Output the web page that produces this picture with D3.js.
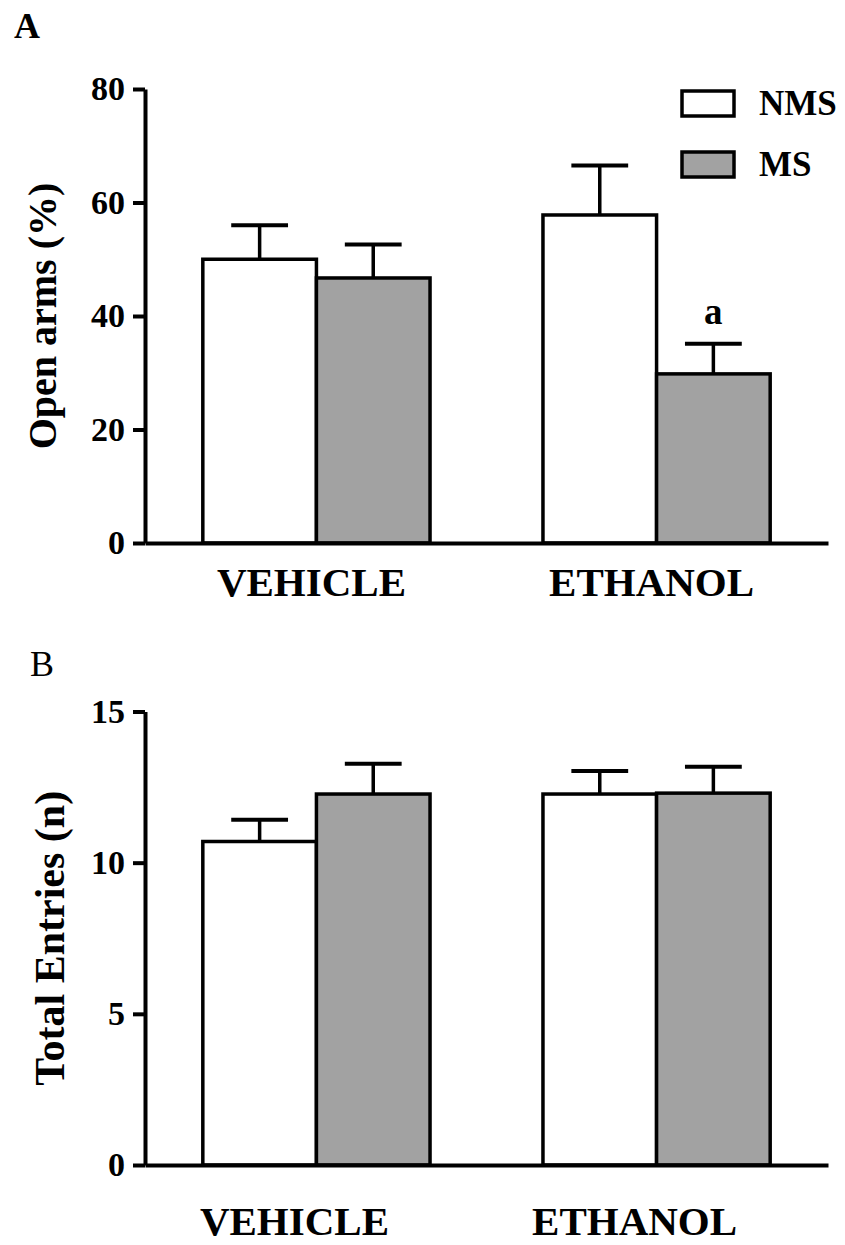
<!DOCTYPE html>
<html>
<head>
<meta charset="utf-8">
<script src="https://cdn.jsdelivr.net/npm/d3@7"></script>
<style>
  body { margin: 0; background: #fff; }
  svg text { font-family: "Liberation Serif", "Times New Roman", serif; }
</style>
</head>
<body>
<div id="chart"></div>
<script>
// values (mean and upper SEM)
var groups = ["VEHICLE", "ETHANOL"];
var series = ["NMS", "MS"];
var seriesFill = { NMS: "#ffffff", MS: "#a2a2a2" };

var openArmsNMS = [50.0, 57.8];
var openArmsNMSErr = [6.0, 8.7];
var openArmsMS = [46.7, 29.8];
var openArmsMSErr = [5.9, 5.3];
var openArmsTicks = [0, 20, 40, 60, 80];

var entriesNMS = [10.7, 12.27];
var entriesNMSErr = [0.72, 0.76];
var entriesMS = [12.27, 12.3];
var entriesMSErr = [1.0, 0.87];
var entriesTicks = [0, 5, 10, 15];

var svg = d3.select("#chart").append("svg")
  .attr("width", 845)
  .attr("height", 1245)
  .style("background-color", "white");

function rows(nms, nmsErr, ms, msErr) {
  return groups.map(function(g, i) {
    return { group: g, values: [
      { key: "NMS", mean: nms[i], err: nmsErr[i] },
      { key: "MS", mean: ms[i], err: msErr[i] }
    ]};
  });
}

function drawPanel(opt) {
  var g = svg.append("g");

  var x0 = d3.scaleBand().domain(groups)
    .range([145, 828]).paddingInner(0.332).paddingOuter(0.17);
  var x1 = d3.scaleBand().domain(series).range([0, x0.bandwidth()]);
  var y = d3.scaleLinear().domain([0, opt.max]).range([opt.bottom, opt.top]);

  // bars + error bars
  var grp = g.selectAll(".grp").data(opt.data).enter().append("g")
    .attr("transform", function(d) { return "translate(" + x0(d.group) + ",0)"; });

  var bar = grp.selectAll(".bar").data(function(d) { return d.values; }).enter().append("g");

  bar.append("line")
    .attr("x1", function(d) { return x1(d.key) + x1.bandwidth() / 2; })
    .attr("x2", function(d) { return x1(d.key) + x1.bandwidth() / 2; })
    .attr("y1", function(d) { return y(d.mean); })
    .attr("y2", function(d) { return y(d.mean + d.err); })
    .attr("stroke", "#000").attr("stroke-width", 3.5);
  bar.append("line")
    .attr("x1", function(d) { return x1(d.key) + x1.bandwidth() / 4; })
    .attr("x2", function(d) { return x1(d.key) + x1.bandwidth() * 3 / 4; })
    .attr("y1", function(d) { return y(d.mean + d.err); })
    .attr("y2", function(d) { return y(d.mean + d.err); })
    .attr("stroke", "#000").attr("stroke-width", 4);

  bar.append("rect")
    .attr("x", function(d) { return x1(d.key); })
    .attr("y", function(d) { return y(d.mean); })
    .attr("width", x1.bandwidth())
    .attr("height", function(d) { return y(0) - y(d.mean); })
    .attr("fill", function(d) { return seriesFill[d.key]; })
    .attr("stroke", "#000").attr("stroke-width", 3.5);

  // axes
  var yAxis = g.append("g")
    .attr("transform", "translate(145,0)")
    .call(d3.axisLeft(y).tickValues(opt.ticks).tickSize(12).tickSizeOuter(0).tickPadding(8));
  yAxis.selectAll("path, line").attr("stroke", "#000").attr("stroke-width", 4);
  yAxis.selectAll("text")
    .attr("fill", "#000")
    .style("font-size", "34px").style("font-weight", "bold");

  var xAxis = g.append("g")
    .attr("transform", "translate(0," + opt.bottom + ")")
    .call(d3.axisBottom(x0).tickSize(0).tickSizeOuter(0).tickPadding(opt.labelGap));
  xAxis.select(".domain").attr("stroke", "#000").attr("stroke-width", 4);
  xAxis.selectAll("text")
    .attr("fill", "#000")
    .attr("dx", opt.labelDx)
    .style("font-size", "41px").style("font-weight", "bold");

  // y title
  g.append("text")
    .attr("transform", "translate(" + opt.titleX + "," + ((opt.top + opt.bottom) / 2) + ") rotate(-90)")
    .attr("text-anchor", "middle")
    .style("font-size", opt.titleSize + "px").style("font-weight", "bold")
    .text(opt.title);

  // panel letter
  g.append("text")
    .attr("x", opt.letterX).attr("y", opt.letterY)
    .style("font-size", "36px").style("font-weight", opt.letterWeight)
    .text(opt.letter);

  return { x0: x0, x1: x1, y: y, g: g };
}

var A = drawPanel({
  data: rows(openArmsNMS, openArmsNMSErr, openArmsMS, openArmsMSErr),
  max: 80, ticks: openArmsTicks, top: 89, bottom: 543,
  labelGap: 24, labelDx: -5,
  title: "Open arms (%)", titleX: 56, titleSize: 40,
  letter: "A", letterX: 14, letterY: 38, letterWeight: "bold"
});

// significance mark over ETHANOL / MS
A.g.append("text")
  .attr("x", A.x0("ETHANOL") + A.x1("MS") + A.x1.bandwidth() / 2)
  .attr("y", A.y(openArmsMS[1] + openArmsMSErr[1]) - 20)
  .attr("text-anchor", "middle")
  .style("font-size", "37px").style("font-weight", "bold")
  .text("a");

// legend
var legend = A.g.selectAll(".legend").data(series).enter().append("g")
  .attr("transform", function(d, i) { return "translate(682," + (91 + i * 61) + ")"; });
legend.append("rect")
  .attr("width", 52).attr("height", 25)
  .attr("fill", function(d) { return seriesFill[d]; })
  .attr("stroke", "#000").attr("stroke-width", 3.5);
legend.append("text")
  .attr("x", 77).attr("y", 24)
  .style("font-size", "35px").style("font-weight", "bold")
  .text(function(d) { return d; });

drawPanel({
  data: rows(entriesNMS, entriesNMSErr, entriesMS, entriesMSErr),
  max: 15, ticks: entriesTicks, top: 711.5, bottom: 1165,
  labelGap: 41, labelDx: -22,
  title: "Total Entries (n)", titleX: 64, titleSize: 42,
  letter: "B", letterX: 30, letterY: 676, letterWeight: "normal"
});
</script>
</body>
</html>
